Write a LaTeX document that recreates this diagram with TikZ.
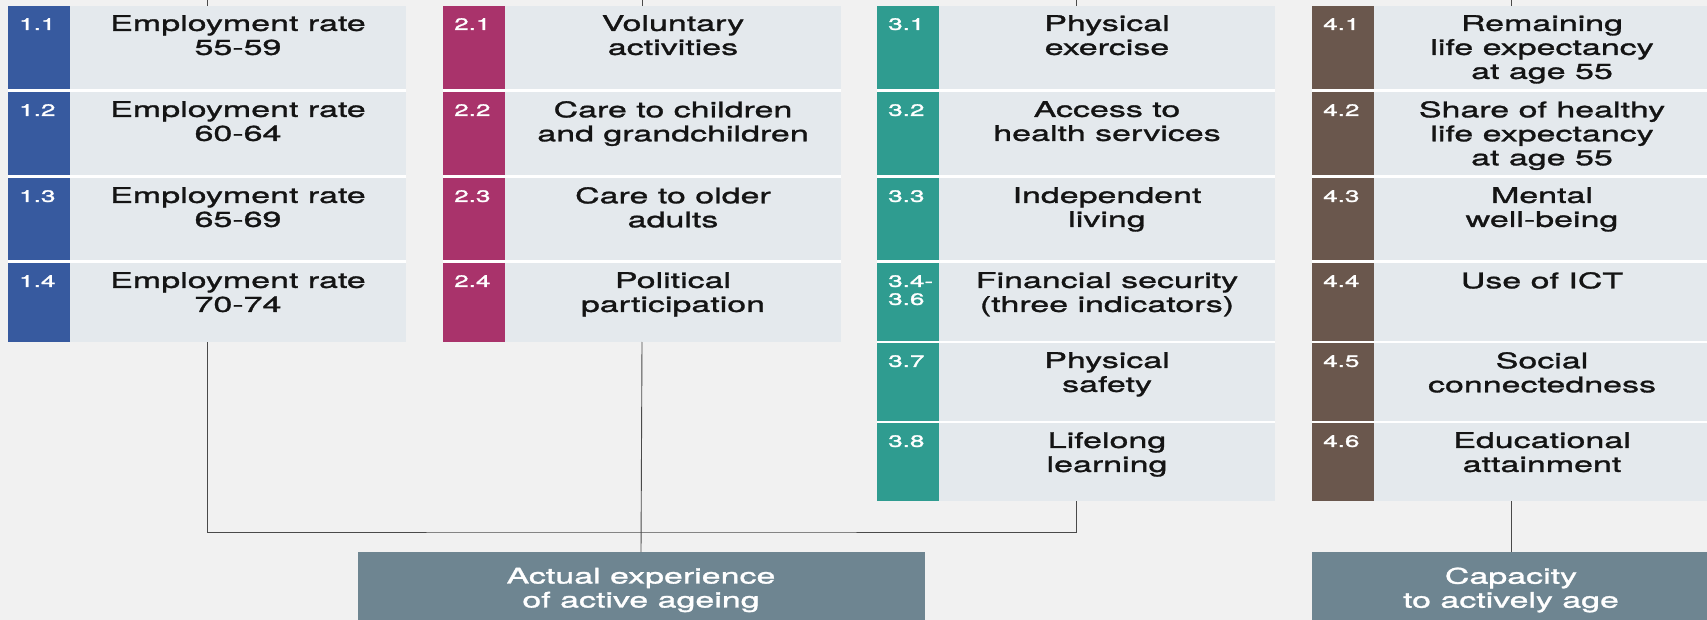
\documentclass[tikz,border=0pt]{standalone}
\usepackage{fontspec}
\setmainfont[FakeStretch=1.58,FakeBold=1.4]{TeX Gyre Heros}
\usetikzlibrary{positioning}
\definecolor{bggrey}{HTML}{F1F1F1}
\definecolor{rowgrey}{HTML}{E4E9ED}
\definecolor{empblue}{HTML}{375A9F}
\definecolor{socmagenta}{HTML}{A9336B}
\definecolor{indteal}{HTML}{2F9C90}
\definecolor{capbrown}{HTML}{6A574D}
\definecolor{slate}{HTML}{6E8591}
\definecolor{linegrey}{HTML}{4A4A4A}
\tikzset{
    % Boxes
    rowbox/.style={fill=rowgrey,inner sep=0pt,outer sep=0pt,minimum width=398pt,anchor=north west},
    strip/.style={fill=#1,inner sep=0pt,outer sep=0pt,minimum width=62pt,anchor=north west},
    sumbox/.style={fill=slate,text=white,align=center,inner sep=0pt,outer sep=0pt,minimum height=76pt,anchor=north,
        font=\fontsize{21.5}{24}\selectfont},
    %
    % Texts
    numtext/.style={text=white,align=left,inner sep=0pt,anchor=north west,font=\fontsize{16.5}{18}\selectfont},
    itemtext/.style={text=black!92,align=center,inner sep=0pt,anchor=north,font=\fontsize{21.5}{24}\selectfont},
    %
    % Lines
    link/.style={draw=linegrey,line width=0.9pt}
}

\begin{document}
\begin{tikzpicture}[x=1pt,y=-1pt]
    \useasboundingbox (0,0) rectangle (1707,620);
    \clip (0,0) rectangle (1707,620);
    \fill[bggrey] (0,0) rectangle (1707,620);
    % column 1
    \fill[white] (8,6) rectangle (406,342);
    \foreach \n/\y/\h/\txt in {1/6/83/{Employment rate\\55-59},2/92/83/{Employment rate\\60-64},
            3/178/82/{Employment rate\\65-69},4/263/79/{Employment rate\\70-74}}{
        \node[rowbox,minimum height=\h pt] (r1\n) at (8,\y) {};
        \node[strip=empblue,minimum height=\h pt] (s1\n) at (r1\n.north west) {};
        \node[numtext] (n1\n) at ([xshift=11pt,yshift=-12pt]r1\n.north west) {1.\n};
        \node[itemtext] (t1\n) at ([xshift=31pt,yshift=-9pt]r1\n.north) {\txt};
    }
    % column 2
    \fill[white] (443,6) rectangle (841,342);
    \foreach \n/\y/\h/\txt in {1/6/83/{Voluntary\\activities},2/92/83/{Care to children\\and grandchildren},
            3/178/82/{Care to older\\adults},4/263/79/{Political\\participation}}{
        \node[rowbox,minimum height=\h pt] (r2\n) at (443,\y) {};
        \node[strip=socmagenta,minimum height=\h pt] (s2\n) at (r2\n.north west) {};
        \node[numtext] (n2\n) at ([xshift=11pt,yshift=-12pt]r2\n.north west) {2.\n};
        \node[itemtext] (t2\n) at ([xshift=31pt,yshift=-9pt]r2\n.north) {\txt};
    }
    % column 3
    \fill[white] (877,6) rectangle (1275,501);
    \foreach \n/\num/\y/\h/\txt in {1/3.1/6/83/{Physical\\exercise},2/3.2/92/83/{Access to\\health services},
            3/3.3/178/82/{Independent\\living},4/{3.4-\\3.6}/263/78/{Financial security\\(three indicators)},
            5/3.7/343/78/{Physical\\safety},6/3.8/423/78/{Lifelong\\learning}}{
        \node[rowbox,minimum height=\h pt] (r3\n) at (877,\y) {};
        \node[strip=indteal,minimum height=\h pt] (s3\n) at (r3\n.north west) {};
        \node[numtext] (n3\n) at ([xshift=11pt,yshift=-12pt]r3\n.north west) {\num};
        \node[itemtext] (t3\n) at ([xshift=31pt,yshift=-9pt]r3\n.north) {\txt};
    }
    % column 4
    \fill[white] (1312,6) rectangle (1710,501);
    \foreach \n/\y/\h/\txt in {1/6/83/{Remaining\\life expectancy\\at age 55},2/92/83/{Share of healthy\\life expectancy\\at age 55},
            3/178/82/{Mental\\well-being},4/263/78/{Use of ICT},
            5/343/78/{Social\\connectedness},6/423/78/{Educational\\attainment}}{
        \node[rowbox,minimum height=\h pt] (r4\n) at (1312,\y) {};
        \node[strip=capbrown,minimum height=\h pt] (s4\n) at (r4\n.north west) {};
        \node[numtext] (n4\n) at ([xshift=11pt,yshift=-12pt]r4\n.north west) {4.\n};
        \node[itemtext] (t4\n) at ([xshift=31pt,yshift=-9pt]r4\n.north) {\txt};
    }
    % summary boxes
    \node[sumbox,minimum width=567pt] (actual) at (641,552) {Actual experience\\of active ageing};
    \node[sumbox,minimum width=398pt] (capacity) at (1511,552) {Capacity\\to actively age};
    \coordinate (jn) at (641,532);
    % connectors
    \foreach \c in {1,...,4}
        \draw[link] (r\c1.north) -- (r\c1.north |- 0,-2);
    \draw[link] (r14.south) |- (jn) -| (r36.south);
    \draw[link] (r24.south) -- (actual.north);
    \draw[link] (r46.south) -- (capacity.north);
\end{tikzpicture}
\end{document}
